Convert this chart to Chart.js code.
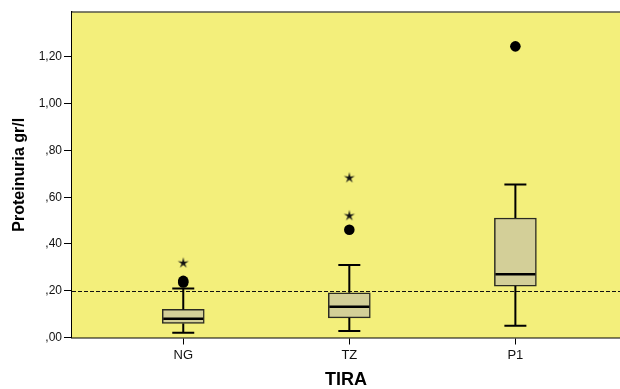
<!DOCTYPE html>
<html>
<head>
<meta charset="utf-8">
<style>
  html, body { margin: 0; padding: 0; background: #fff; overflow: hidden; }
  #wrap { width: 620px; height: 389px; }
</style>
<script src="https://cdn.jsdelivr.net/npm/chart.js@4.4.1/dist/chart.umd.min.js"></script>
</head>
<body>
<div id="wrap"><canvas id="box" width="620" height="389"></canvas></div>
<script>
// Boxplot of proteinuria per strip (SPSS style).
const categories = ["NG", "TZ", "P1"];
const whiskerLow = [0.02, 0.028, 0.05];
const q1 = [0.06, 0.084, 0.22];
const median = [0.08, 0.131, 0.27];
const q3 = [0.12, 0.191, 0.511];
const whiskerHigh = [0.21, 0.31, 0.654];
const outliers = [[0.235, 0.242], [0.461], [1.245]];
const extremes = [[0.32], [0.522, 0.684], []];
const yTicks = [0, 0.2, 0.4, 0.6, 0.8, 1.0, 1.2];
const refLine = 0.2;

const PLOT_BG = "#f3ef7b";
const BOX_FILL = "#d3cf98";
const FONT = "'Liberation Sans', Arial, sans-serif";

Chart.defaults.font.family = FONT;
Chart.defaults.color = "#111";

// small five-armed star used by SPSS for extreme values
function starIcon() {
  const c = document.createElement("canvas");
  c.width = 14; c.height = 14;
  const g = c.getContext("2d");
  g.translate(7, 7.4);
  g.beginPath();
  for (let i = 0; i < 10; i++) {
    const r = i % 2 ? 1.8 : 5.8;
    const a = -Math.PI / 2 + i * Math.PI / 5;
    g.lineTo(r * Math.cos(a), r * Math.sin(a));
  }
  g.closePath();
  g.fillStyle = "#111";
  g.fill();
  return c;
}

const fmt = (v) => {
  const s = v.toFixed(2).replace(".", ",");
  return s.startsWith("0") ? s.slice(1) : s;
};

const plotDecor = {
  id: "plotDecor",
  beforeDatasetsDraw(chart) {
    const { ctx, chartArea: a, scales: { y } } = chart;
    ctx.save();
    ctx.fillStyle = PLOT_BG;
    ctx.fillRect(a.left, a.top, a.right - a.left, a.bottom - a.top);
    ctx.strokeStyle = "#55554a";
    ctx.lineWidth = 1.5;
    ctx.beginPath();
    ctx.moveTo(a.left, a.top);
    ctx.lineTo(a.right, a.top);
    ctx.stroke();
    // reference line
    const ry = Math.round(y.getPixelForValue(refLine)) + 0.5;
    ctx.strokeStyle = "#111";
    ctx.lineWidth = 1;
    ctx.setLineDash([4, 2]);
    ctx.beginPath();
    ctx.moveTo(a.left, ry);
    ctx.lineTo(a.right, ry);
    ctx.stroke();
    ctx.restore();
  },
};

const whiskers = {
  id: "whiskers",
  afterDatasetsDraw(chart) {
    const { ctx, scales: { x, y } } = chart;
    ctx.save();
    ctx.strokeStyle = "#000";
    categories.forEach((_, i) => {
      const cx = x.getPixelForValue(i);
      ctx.lineWidth = 2;
      ctx.beginPath();
      ctx.moveTo(cx, y.getPixelForValue(q3[i]));
      ctx.lineTo(cx, y.getPixelForValue(whiskerHigh[i]));
      ctx.moveTo(cx, y.getPixelForValue(q1[i]));
      ctx.lineTo(cx, y.getPixelForValue(whiskerLow[i]));
      ctx.moveTo(cx - 11, y.getPixelForValue(whiskerHigh[i]));
      ctx.lineTo(cx + 11, y.getPixelForValue(whiskerHigh[i]));
      ctx.moveTo(cx - 11, y.getPixelForValue(whiskerLow[i]));
      ctx.lineTo(cx + 11, y.getPixelForValue(whiskerLow[i]));
      ctx.stroke();
      ctx.lineWidth = 2.5;
      ctx.beginPath();
      ctx.moveTo(cx - 20, y.getPixelForValue(median[i]));
      ctx.lineTo(cx + 20, y.getPixelForValue(median[i]));
      ctx.stroke();
    });
    ctx.restore();
  },
};

const pointsOf = (lists) => lists.flatMap((vals, i) => vals.map((v) => ({ x: i, y: v })));

new Chart(document.getElementById("box"), {
  type: "bar",
  data: {
    datasets: [
      {
        type: "scatter", data: pointsOf(outliers), pointStyle: "circle",
        pointRadius: 5.3, backgroundColor: "#000", borderColor: "#000", borderWidth: 0,
      },
      {
        type: "scatter", data: pointsOf(extremes), pointStyle: starIcon(),
        pointRadius: 7,
      },
      {
        type: "bar", data: categories.map((_, i) => ({ x: i, y: [q1[i], q3[i]] })),
        backgroundColor: BOX_FILL, borderColor: "#2b2b22", borderWidth: 1.5,
        borderSkipped: false, barThickness: 42,
      },
    ],
  },
  options: {
    responsive: false,
    animation: false,
    events: [],
    layout: { autoPadding: false, padding: { top: 12, right: 0, left: 0, bottom: 0 } },
    plugins: { legend: { display: false }, tooltip: { enabled: false } },
    scales: {
      x: {
        type: "linear", min: -0.67, max: 2.63, offset: false, grace: 0,
        afterBuildTicks: (s) => { s.ticks = categories.map((_, i) => ({ value: i })); },
        afterFit: (s) => { s.height = 51.5; s.paddingLeft = 0; s.paddingRight = 0; },
        ticks: { autoSkip: false, maxRotation: 0, padding: 3, color: "#111", font: { size: 13 }, callback: (v) => categories[v] },
        grid: { offset: false, drawOnChartArea: false, tickLength: 7, color: "#000", lineWidth: 1 },
        border: { color: "#000", width: 1.5 },
        title: { display: true, text: "TIRA", color: "#000", font: { size: 18, weight: "bold", lineHeight: 1 }, padding: { top: 0, bottom: 0 } },
      },
      y: {
        min: 0, max: 1.392,
        afterBuildTicks: (s) => { s.ticks = yTicks.map((v) => ({ value: v })); },
        afterFit: (s) => { s.width = 72; s.paddingTop = 0; s.paddingBottom = 0; },
        ticks: { padding: 2, color: "#111", font: { size: 12 }, callback: (v) => fmt(v) },
        grid: { drawOnChartArea: false, tickLength: 8, color: "#000", lineWidth: 1 },
        border: { color: "#000", width: 1.5 },
        title: { display: true, text: "Proteinuria gr/l", color: "#000", font: { size: 16, weight: "bold", lineHeight: 1 }, padding: { top: 12, bottom: 0 } },
      },
    },
  },
  plugins: [plotDecor, whiskers],
});
</script>
</body>
</html>
